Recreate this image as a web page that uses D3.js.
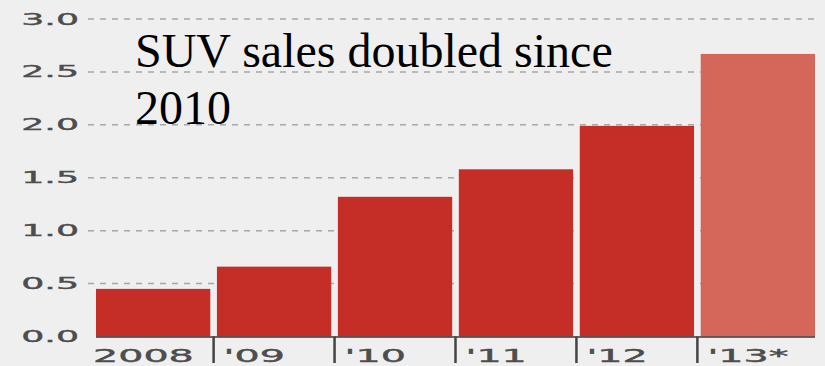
<!DOCTYPE html>
<html>
<head>
<meta charset="utf-8">
<script src="https://cdn.jsdelivr.net/npm/d3@7"></script>
<style>
  html, body { margin: 0; padding: 0; background: #efefef; }
  svg { display: block; }
</style>
</head>
<body>
<svg id="chart" width="825" height="366"></svg>
<script>
const categories = ["2008", "'09", "'10", "'11", "'12", "'13*"];
const sales = [0.45, 0.66, 1.32, 1.58, 1.99, 2.67];
const forecast = [false, false, false, false, false, true];
const yTicks = [0.0, 0.5, 1.0, 1.5, 2.0, 2.5, 3.0];
const titleLines = ["SUV sales doubled since", "2010"];

const W = 825, H = 366;
const svg = d3.select("#chart");
svg.append("rect").attr("width", W).attr("height", H).attr("fill", "#efefef");

const x = d3.scaleBand().domain(categories).range([96, 815]).paddingInner(0.055).paddingOuter(0);
const y = d3.scaleLinear().domain([0, 3]).range([336.5, 19]);
const stretch = 2.2;

// gridlines
svg.append("g").selectAll("line").data(yTicks.filter(d => d > 0)).join("line")
  .attr("x1", 88).attr("x2", 815)
  .attr("y1", d => y(d)).attr("y2", d => y(d))
  .attr("stroke", "#a8a8a8").attr("stroke-width", 1.5)
  .attr("stroke-dasharray", "6,6");

// y labels
svg.append("g").selectAll("text").data(yTicks).join("text")
  .attr("transform", d => `translate(79,${y(d)}) scale(${stretch},1)`)
  .attr("text-anchor", "end").attr("dominant-baseline", "central")
  .attr("font-family", "DejaVu Sans, Verdana, sans-serif")
  .attr("font-size", 16.5).attr("fill", "#4d4d4d")
  .attr("stroke", "#4d4d4d").attr("stroke-width", 0.4)
  .text(d => d.toFixed(1));

// bars
svg.append("g").selectAll("rect").data(categories).join("rect")
  .attr("x", d => x(d)).attr("width", x.bandwidth())
  .attr("y", (d, i) => y(sales[i]))
  .attr("height", (d, i) => y(0) - y(sales[i]))
  .attr("fill", (d, i) => forecast[i] ? "#d5665a" : "#c52d27");

// baseline
svg.append("line").attr("x1", x(categories[0])).attr("x2", 815)
  .attr("y1", y(0) + 0.5).attr("y2", y(0) + 0.5)
  .attr("stroke", "#3a3a3a").attr("stroke-width", 1.5);

// boundary ticks
const gap = x.step() * x.paddingInner();
svg.append("g").selectAll("line").data(categories.slice(1)).join("line")
  .attr("x1", d => x(d) - gap / 2).attr("x2", d => x(d) - gap / 2)
  .attr("y1", y(0)).attr("y2", 363)
  .attr("stroke", "#444").attr("stroke-width", 2.5);

// x labels
svg.append("g").selectAll("text").data(categories).join("text")
  .attr("transform", (d, i) => `translate(${i === 0 ? x(d) - 3 : x(d) - gap / 2 + 10},362) scale(${stretch},1)`)
  .attr("font-family", "DejaVu Sans, Verdana, sans-serif")
  .attr("font-size", 18).attr("fill", "#4d4d4d")
  .attr("stroke", "#4d4d4d").attr("stroke-width", 0.4)
  .text(d => d);

// title
const title = svg.append("text")
  .attr("font-family", "Liberation Serif, Times New Roman, serif")
  .attr("font-size", 48).attr("fill", "#000");
titleLines.forEach((t, i) => {
  title.append("tspan").attr("x", 135).attr("y", 67 + i * 57).text(t);
});
</script>
</body>
</html>
